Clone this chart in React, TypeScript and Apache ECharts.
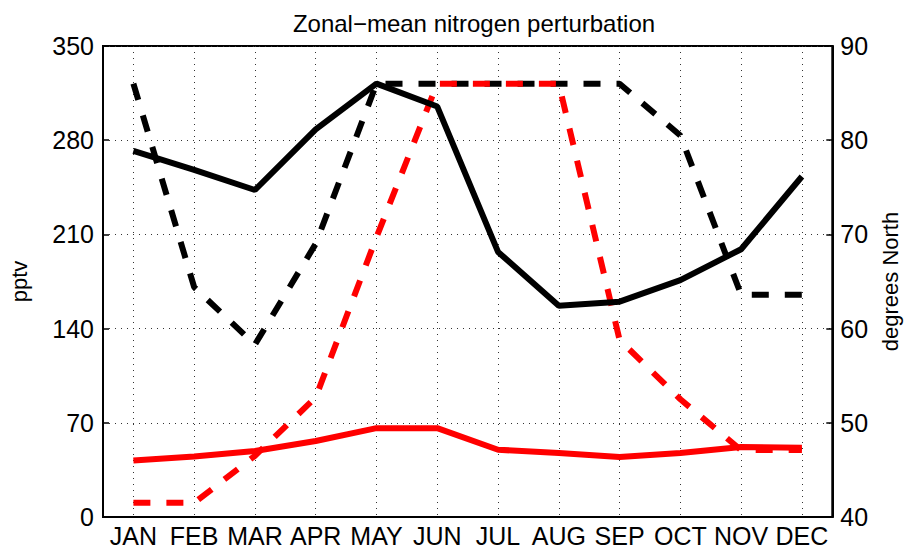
import React, { useEffect, useRef } from "react";
import * as echarts from "echarts";

const months = ["JAN", "FEB", "MAR", "APR", "MAY", "JUN", "JUL", "AUG", "SEP", "OCT", "NOV", "DEC"];
// pptv (left axis)
const blackSolid = [272, 258, 243, 288, 322, 305, 197, 157, 160, 176, 199, 253];
const redSolid = [42, 45, 49, 56.5, 66, 66, 50, 47.5, 44.5, 47.5, 52, 51.5];
// degrees North (right axis)
const blackDashed = [86, 64.4, 58.3, 69, 86, 86, 86, 86, 86, 80.5, 63.6, 63.6];
const redDashed = [41.5, 41.5, 46.5, 52.7, 69.7, 86, 86, 86, 58.8, 52.5, 47.1, 47.1];

const leftTicks = { min: 0, max: 350, interval: 70 };
const rightTicks = { min: 40, max: 90, interval: 10 };

const FONT = "'Liberation Sans', Arial, Helvetica, sans-serif";

export default function App() {
  const ref = useRef<HTMLDivElement>(null);
  useEffect(() => {
    if (!ref.current) return;
    const chart = echarts.init(ref.current, undefined, { renderer: "svg" });
    const labelStyle = { color: "#000", fontSize: 25, fontFamily: FONT };
    const dashed = [17, 16];
    chart.setOption({
      animation: false,
      backgroundColor: "#fff",
      title: {
        text: "Zonal\u2212mean nitrogen perturbation",
        left: 469,
        top: 6,
        textAlign: "center",
        textStyle: { color: "#000", fontSize: 24, fontWeight: "normal", fontFamily: FONT },
      },
      grid: {
        left: 102,
        right: 76,
        top: 46,
        bottom: 30,
        show: true,
        borderColor: "#000",
        borderWidth: 2,
        backgroundColor: "transparent",
      },
      xAxis: {
        type: "category",
        data: months,
        boundaryGap: true,
        axisLine: { lineStyle: { color: "#000", width: 2 } },
        axisTick: { inside: true, length: 5, alignWithLabel: true, lineStyle: { color: "#000", width: 1.5 } },
        axisLabel: { ...labelStyle, interval: 0, margin: 6 },
        splitLine: {
          show: true,
          alignWithLabel: true,
          lineStyle: { color: "#333", width: 1, type: [1, 5] },
        },
      },
      yAxis: [
        {
          type: "value",
          position: "left",
          ...leftTicks,
          name: "pptv",
          nameLocation: "middle",
          nameGap: 73,
          nameTextStyle: { color: "#000", fontSize: 22, fontFamily: FONT },
          axisLine: { show: true, lineStyle: { color: "#000", width: 2 } },
          axisTick: { show: true, inside: true, length: 6, lineStyle: { color: "#000", width: 1.5 } },
          axisLabel: { ...labelStyle, margin: 9 },
          splitLine: { show: true, lineStyle: { color: "#333", width: 1, type: [1, 5] } },
        },
        {
          type: "value",
          position: "right",
          ...rightTicks,
          name: "degrees North",
          nameLocation: "middle",
          nameGap: 37,
          nameTextStyle: { color: "#000", fontSize: 22, fontFamily: FONT },
          axisLine: { show: true, lineStyle: { color: "#000", width: 2 } },
          axisTick: { show: true, inside: true, length: 6, lineStyle: { color: "#000", width: 1.5 } },
          axisLabel: { ...labelStyle, margin: 8 },
          splitLine: { show: false },
        },
      ],
      series: [
        {
          type: "line",
          name: "black dashed",
          yAxisIndex: 1,
          data: blackDashed,
          symbol: "none",
          lineStyle: { color: "#000", width: 6, type: dashed, cap: "butt" },
          z: 2,
        },
        {
          type: "line",
          name: "red dashed",
          yAxisIndex: 1,
          data: redDashed,
          symbol: "none",
          lineStyle: { color: "#ff0000", width: 6, type: dashed, cap: "butt" },
          z: 3,
        },
        {
          type: "line",
          name: "black solid",
          yAxisIndex: 0,
          data: blackSolid,
          symbol: "none",
          lineStyle: { color: "#000", width: 6 },
          z: 4,
        },
        {
          type: "line",
          name: "red solid",
          yAxisIndex: 0,
          data: redSolid,
          symbol: "none",
          lineStyle: { color: "#ff0000", width: 6 },
          z: 5,
        },
      ],
    });
    return () => chart.dispose();
  }, []);
  return (
    <div
      ref={ref}
      style={{ position: "absolute", left: 0, top: 0, width: 909, height: 548 }}
    />
  );
}
